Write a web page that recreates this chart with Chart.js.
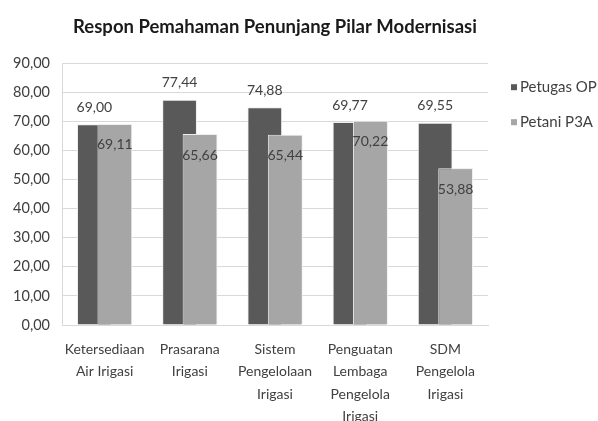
<!DOCTYPE html>
<html>
<head>
<meta charset="utf-8">
<script src="https://cdn.jsdelivr.net/npm/chart.js@4.4.1/dist/chart.umd.min.js"></script>
<style>
  html, body { margin: 0; padding: 0; background: #fff; }
  #wrap { width: 598px; height: 421px; }
</style>
</head>
<body>
<div id="wrap"><canvas id="canvas" width="598" height="421"></canvas></div>
<script>
// data
var kategori = [
    ['Ketersediaan', 'Air Irigasi'],
    ['Prasarana', 'Irigasi'],
    ['Sistem', 'Pengelolaan', 'Irigasi'],
    ['Penguatan', 'Lembaga', 'Pengelola', 'Irigasi'],
    ['SDM', 'Pengelola', 'Irigasi']
];
var petugasOP = [69.00, 77.44, 74.88, 69.77, 69.55];
var petaniP3A = [69.11, 65.66, 65.44, 70.22, 53.88];
var seriesNames = ['Petugas OP', 'Petani P3A'];
var warna = ['#595959', '#a6a6a6'];
var judul = 'Respon Pemahaman Penunjang Pilar Modernisasi';

function koma(v) {
    return v.toFixed(2).replace('.', ',');
}

// light bars go over the dark ones (excel overlap), then value labels + legend
var labelPlugin = {
    id: 'labelPlugin',
    afterDatasetsDraw: function (chart) {
        var ctx = chart.ctx;
        var light = chart.getDatasetMeta(1);
        var dark = chart.getDatasetMeta(0);
        light.data.forEach(function (el) { el.draw(ctx); });

        ctx.save();
        ctx.font = '14px Lato';
        ctx.fillStyle = '#404040';
        ctx.textAlign = 'center';
        ctx.textBaseline = 'middle';
        dark.data.forEach(function (el, i) {
            ctx.fillText(koma(petugasOP[i]), el.x, el.y - 17);
        });
        light.data.forEach(function (el, i) {
            ctx.fillText(koma(petaniP3A[i]), el.x, el.y + 21);
        });
        ctx.restore();
    },
    afterDraw: function (chart) {
        // legend on the right, near the top like excel puts it
        var ctx = chart.ctx;
        var x = chart.chartArea.right + 23;
        var y = chart.chartArea.top + 24;
        ctx.save();
        ctx.font = '15px Lato';
        ctx.textAlign = 'left';
        ctx.textBaseline = 'middle';
        for (var i = 0; i < seriesNames.length; i++) {
            ctx.fillStyle = warna[i];
            ctx.fillRect(x, y + i * 35 - 3, 6, 6);
            ctx.fillStyle = '#404040';
            ctx.fillText(seriesNames[i], x + 9, y + i * 35);
        }
        ctx.restore();
    }
};

var ctx = document.getElementById('canvas').getContext('2d');
var myChart = new Chart(ctx, {
    type: 'bar',
    data: {
        labels: kategori,
        datasets: [
            {
                label: seriesNames[0],
                data: petugasOP,
                backgroundColor: warna[0],
                borderColor: '#eeeeee',
                borderWidth: 1
            },
            {
                label: seriesNames[1],
                data: petaniP3A,
                backgroundColor: warna[1],
                borderColor: '#eeeeee',
                borderWidth: 1
            }
        ]
    },
    plugins: [labelPlugin],
    options: {
        responsive: false,
        animation: false,
        categoryPercentage: 0.48,
        barPercentage: 1.7,
        layout: { padding: { left: 0, right: 110, top: 0, bottom: 0 } },
        plugins: {
            title: {
                display: true,
                fullSize: false,
                text: judul,
                color: '#1a1a1a',
                font: { family: 'Lato', size: 18.5, weight: 'bold', lineHeight: 1.2 },
                padding: { top: 16, bottom: 25 }
            },
            legend: { display: false },
            tooltip: { enabled: false }
        },
        scales: {
            x: {
                grid: { display: false, drawTicks: false },
                border: { display: true, color: '#d9d9d9' },
                ticks: {
                    color: '#404040',
                    autoSkip: false,
                    maxRotation: 0,
                    padding: 13,
                    font: { family: 'Lato', size: 14, lineHeight: 1.6 }
                },
                afterFit: function (scale) { scale.height = 96; }
            },
            y: {
                min: 0,
                max: 90,
                grid: { color: '#d9d9d9', drawTicks: false },
                border: { display: true, color: '#d9d9d9' },
                ticks: {
                    stepSize: 10,
                    color: '#404040',
                    padding: 12,
                    font: { family: 'Lato', size: 14.5 },
                    callback: function (v) { return koma(v); }
                },
                afterFit: function (scale) { scale.width = 62; }
            }
        }
    }
});
</script>
</body>
</html>
